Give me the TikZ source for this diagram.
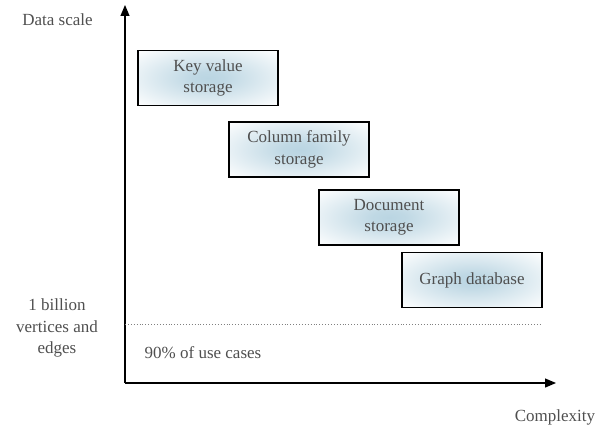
\documentclass[tikz,border=0pt]{standalone}
\usepackage{fontspec}
\setmainfont{Liberation Serif}
\usetikzlibrary{arrows.meta}
\definecolor{txt}{HTML}{4F4F4F}
\definecolor{boxin}{HTML}{BAD5E2}
\pgfdeclareradialshading{boxshade}{\pgfpoint{0bp}{0bp}}{%
  color(0bp)=(boxin); color(6bp)=(boxin!92!white); color(36bp)=(white); color(50bp)=(white)}
\tikzset{
  dbbox/.style={draw=black, line width=1.6pt, shading=boxshade,
    minimum width=140pt, minimum height=55pt, align=center, text=txt,
    font=\fontsize{17}{21.5}\selectfont},
  lbl/.style={text=txt, align=center, font=\fontsize{17}{21.5}\selectfont},
  axis/.style={line width=1.2pt, -{Triangle[length=11pt,width=9pt]}}
}
\begin{document}
\begin{tikzpicture}[x=1pt,y=-1pt]
\useasboundingbox (0,0) rectangle (596,428);
\coordinate (o) at (125,383);
\coordinate (ytop) at (125,5);
\coordinate (xend) at (556,383);
\coordinate (d1) at (125,324);
\coordinate (d2) at (540,324);
\draw[axis] (o) -- (ytop);
\draw[axis] (o) -- (xend);
\draw[dotted, line width=0.9pt, gray] (d1) -- (d2);
\node[dbbox] (kv) at (208,78) {Key value\\storage};
\node[dbbox] (cf) at (299,149.5) {Column family\\storage};
\node[dbbox] (doc) at (389,217.5) {Document\\storage};
\node[dbbox] (gd) at (472,280) {Graph database};
\node[lbl] (ds) at (57.5,20) {Data scale};
\node[lbl] (bil) at (57,328) {1 billion\\vertices and\\edges};
\node[lbl] (use) at (203,353) {90\% of use cases};
\node[lbl] (cx) at (555,417) {Complexity};
\end{tikzpicture}
\end{document}
